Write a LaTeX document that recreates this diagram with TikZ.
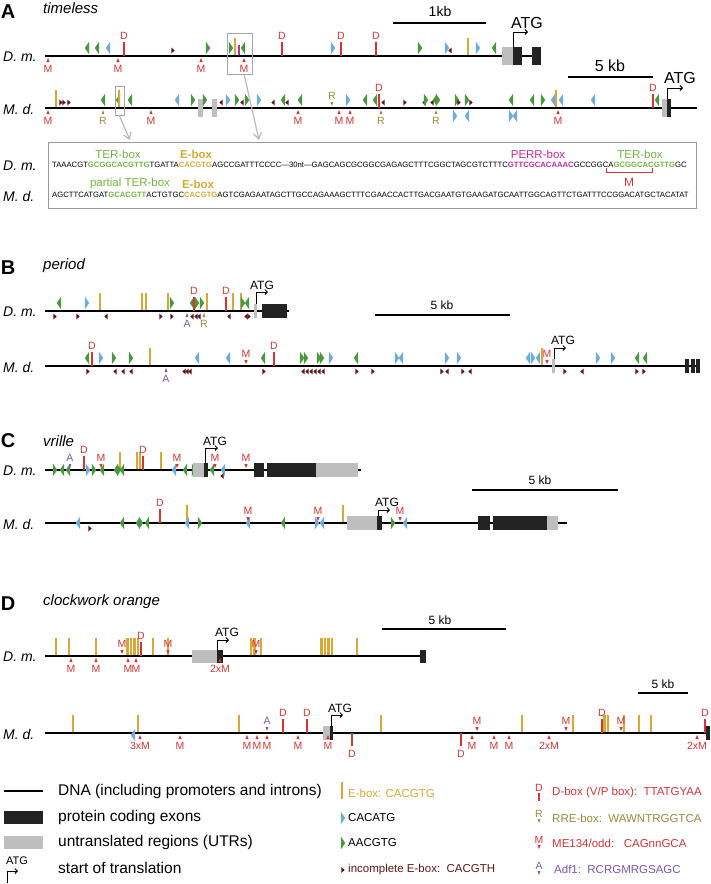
\documentclass[tikz,border=0pt]{standalone}
\usepackage{fontspec}
\setmainfont{Liberation Sans}
\usetikzlibrary{arrows.meta}
\definecolor{egold}{RGB}{218,168,50}
\definecolor{tgreen}{RGB}{72,152,62}
\definecolor{seqg}{RGB}{112,182,62}
\definecolor{tblue}{RGB}{108,172,222}
\definecolor{incred}{RGB}{100,20,25}
\definecolor{mred}{RGB}{214,52,50}
\definecolor{olive}{RGB}{150,140,60}
\definecolor{apurple}{RGB}{125,85,175}
\definecolor{pmag}{RGB}{200,40,160}
\definecolor{utr}{RGB}{190,190,190}
\definecolor{exon}{RGB}{35,35,35}
\tikzset{
    dna/.style={line width=2.6pt,black},
    exonbox/.style={fill=exon},
    utrbox/.style={fill=utr},
    hl/.style={draw=gray!70,line width=0.9pt},
    zoomarr/.style={draw=gray!55,line width=1.2pt,-{Straight Barb[length=6pt,width=8pt]}},
    atgarr/.style={line width=0.9pt,-{Straight Barb[length=2.5pt,width=5pt]}},
    scalebar/.style={line width=1.3pt},
    motif/.style={font=\fontsize{10.5}{10.5}\selectfont,inner sep=0pt},
    panel/.style={font=\fontsize{20}{20}\selectfont\bfseries,inner sep=0pt},
    gene/.style={font=\fontsize{15}{15}\selectfont\itshape,anchor=west,inner sep=0pt},
    trk/.style={font=\fontsize{14}{14}\selectfont\itshape,anchor=west,inner sep=0pt},
    atg/.style={font=\fontsize{12}{12}\selectfont,inner sep=0pt},
    kb/.style={font=\fontsize{12}{12}\selectfont,inner sep=0pt},
    seq/.style={font=\fontsize{7.7}{7.7}\selectfont,anchor=west,inner sep=0pt},
    seqlab/.style={font=\fontsize{11.5}{11.5}\selectfont,inner sep=0pt},
    leg/.style={font=\fontsize{15.5}{15.5}\selectfont,anchor=west,inner sep=0pt},
    legs/.style={font=\fontsize{11.5}{11.5}\selectfont,anchor=west,inner sep=0pt},
}
% site glyphs, x along the track, y relative to the DNA line
\newcommand{\triR}[3]{\fill[#1] (#2-2.2,#3-6.5) -- (#2+2.2,#3) -- (#2-2.2,#3+6.5) -- cycle;}
\newcommand{\triL}[3]{\fill[#1] (#2+2.2,#3-6.5) -- (#2-2.2,#3) -- (#2+2.2,#3+6.5) -- cycle;}
\newcommand{\gR}[2]{\triR{tgreen}{#1}{#2}}
\newcommand{\gL}[2]{\triL{tgreen}{#1}{#2}}
\newcommand{\bR}[2]{\triR{tblue}{#1}{#2}}
\newcommand{\bL}[2]{\triL{tblue}{#1}{#2}}
\newcommand{\iR}[2]{\fill[incred] (#1-1.6,#2-3) -- (#1+1.6,#2) -- (#1-1.6,#2+3) -- cycle;}
\newcommand{\iL}[2]{\fill[incred] (#1+1.6,#2-3) -- (#1-1.6,#2) -- (#1+1.6,#2+3) -- cycle;}
\newcommand{\ebar}[1]{\fill[egold] (#1-1.1,-18) rectangle (#1+1.1,-1);}
\newcommand{\Dup}[1]{\draw[mred,line width=1.2pt] (#1,0) -- (#1,-14); \node[motif,text=mred] at (#1,-20) {D};}
\newcommand{\Ddn}[1]{\draw[mred,line width=1.2pt] (#1,0) -- (#1,13); \node[motif,text=mred] at (#1,21) {D};}
\newcommand{\Mdn}[2][M]{\fill[mred] (#2-1.6,6) -- (#2,2) -- (#2+1.6,6) -- cycle; \node[motif,text=mred] at (#2,12.5) {#1};}
\newcommand{\Mup}[1]{\fill[mred] (#1-1.6,-6) -- (#1,-2) -- (#1+1.6,-6) -- cycle; \node[motif,text=mred] at (#1,-12) {M};}
\newcommand{\Rdn}[1]{\fill[olive] (#1-1.4,6) -- (#1,2) -- (#1+1.4,6) -- cycle; \node[motif,text=olive] at (#1,12.5) {R};}
\newcommand{\Rup}[1]{\fill[olive] (#1-1.4,-6) -- (#1,-2) -- (#1+1.4,-6) -- cycle; \node[motif,text=olive] at (#1,-12) {R};}
\newcommand{\Adn}[1]{\fill[apurple] (#1-1.4,6) -- (#1,2) -- (#1+1.4,6) -- cycle; \node[motif,text=apurple] at (#1,12.5) {A};}
\newcommand{\Aup}[1]{\fill[apurple] (#1-1.4,-6) -- (#1,-2) -- (#1+1.4,-6) -- cycle; \node[motif,text=apurple] at (#1,-12) {A};}

\begin{document}
\begin{tikzpicture}[x=1pt,y=-1pt]
\useasboundingbox (0,0) rectangle (711,884);

% ---------------- A: timeless
\node[panel] (pA) at (8,12) {A};
\node[gene] (gA) at (43,8) {timeless};
\node[trk] (dmA) at (3,57) {D. m.};
\node[trk] (mdA) at (3,109) {M. d.};
\draw[scalebar] (393,23) -- (486,23);
\node[kb,font=\fontsize{14}{14}\selectfont] (kbA1) at (440,11) {1kb};
\draw[scalebar] (568,77) -- (653,77);
\node[kb,font=\fontsize{16}{16}\selectfont] (kbA2) at (610,66) {5 kb};

\begin{scope}[shift={(0,56)}]
\draw[dna] (45,0) -- (541,0);
\gL{87}{-8} \gL{97}{-8} \bL{108}{-8} \Dup{124}
\Mdn{48} \Mdn{118} \Mdn{201} \Mdn{244}
\iR{173}{-5.5} \gR{208}{-8}
\gR{231}{-8} \ebar{235} \fill[pmag] (237.8,-11) rectangle (240.4,-1); \gL{243}{-8}
\draw[hl] (227,-23) rectangle (252,18);
\Dup{282} \bR{333}{-8} \Dup{341} \Dup{376}
\gR{420}{-8} \bR{447}{-8} \iL{450}{-5.5} \ebar{468} \bR{478}{-8} \gL{494}{-8}
\fill[utrbox] (502,-9) rectangle (513,9);
\fill[exonbox] (513,-9) rectangle (522,9);
\fill[exonbox] (532,-9) rectangle (541,9);
\node[atg,font=\fontsize{16}{16}\selectfont] (atgA1) at (527,-33) {ATG};
\draw[atgarr] (513,-9) |- (528,-24);
\end{scope}

\begin{scope}[shift={(0,108)}]
\draw[dna] (45,0) -- (697,0);
\Mdn{48} \ebar{56} \iR{61}{-5.5} \iR{64}{-5.5} \iR{69}{-5.5}
\gL{103}{-8} \Rdn{103}
\gL{118}{-8} \ebar{119} \gL{130}{-8}
\draw[hl] (115,-22) rectangle (124,7);
\Mdn{151}
\bL{177}{-8} \gR{193}{-8} \fill[utrbox] (198,-9) rectangle (203,9);
\gR{205}{-8} \fill[utrbox] (212,-9) rectangle (217,9);
\iL{221}{-5.5} \bR{228}{-8} \gR{237}{-8} \iL{242}{-5.5} \gR{247}{-8} \bR{259}{-8}
\iL{273}{-5.5} \gL{283}{-8} \iL{287}{-5.5} \gL{300}{-8} \Mdn{298}
\Rup{332} \Mdn{339} \Mdn{350} \bR{348}{-8}
\gL{365}{-8} \gL{375}{-8} \Dup{379} \iL{383}{-5.5} \Rdn{381}
\iR{405}{-5.5} \iL{424}{-5.5} \gR{426}{-8} \iL{432}{-5.5} \gL{435}{-8} \gR{438}{-8} \Rdn{436}
\gR{457}{-8} \iR{459}{-5.5} \gR{467}{-8} \iR{471}{-5.5}
\bR{455}{8} \bL{467}{8}
\gL{511}{-8} \bR{511}{8} \bL{515}{8}
\gL{532}{-8} \gR{543}{-8} \bL{553}{-8} \ebar{556} \bL{561}{-8} \Mdn{558}
\bL{593}{-8} \Dup{653} \gL{657}{-8}
\fill[utrbox] (662,-9) rectangle (667,9);
\fill[exonbox] (667,-9) rectangle (671,9);
\node[atg,font=\fontsize{16}{16}\selectfont] (atgA2) at (680,-30) {ATG};
\draw[atgarr] (667,-9) |- (683,-20);
\end{scope}

% zoom-in of the two boxed stretches
\draw[zoomarr] (119,115) -- (130,140);
\draw[zoomarr] (244,74) -- (259,140);
\draw[hl,draw=gray!80] (48,142) rectangle (696,208);
\node[trk] (dmS) at (3,166) {D. m.};
\node[trk] (mdS) at (3,196) {M. d.};
\node[seqlab,text=seqg] (terA) at (118,154) {TER-box};
\node[seqlab,text=egold,font=\fontsize{11.5}{11.5}\selectfont\bfseries] (ebA) at (196,154) {E-box};
\node[seqlab,text=pmag] (perr) at (538,154) {PERR-box};
\node[seqlab,text=seqg] (terB) at (640,154) {TER-box};
\node[seq] (s1) at (52,165) {TAAACGT\textcolor{seqg}{\textbf{GCGGCACGTTG}}TGATTA\textcolor{egold}{\textbf{CACGTG}}AGCCGATTTCCCC---30nt---GAGCAGCGCGGCGAGAGCTTTCGGCTAGCGTCTTTC\textcolor{pmag}{\textbf{GTTCGCACAAAC}}GCCGGCA\textcolor{seqg}{\textbf{GCGGCACGTTG}}GC};
\draw[mred,line width=1pt] (606,168) -- (606,172) -- (652,172) -- (652,168);
\node[motif,text=mred,font=\fontsize{12}{12}\selectfont] (mS) at (629,182) {M};
\node[seqlab,text=seqg] (pter) at (130,184) {partial TER-box};
\node[seqlab,text=egold,font=\fontsize{11.5}{11.5}\selectfont\bfseries] (ebB) at (198,184) {E-box};
\node[seq] (s2) at (52,195) {AGCTTCATGAT\textcolor{seqg}{\textbf{GCACGTT}}ACTGTGC\textcolor{egold}{\textbf{CACGTG}}AGTCGAGAATAGCTTGCCAGAAAGCTTTCGAACCACTTGACGAATGTGAAGATGCAATTGGCAGTTCTGATTTCCGGACATGCTACATAT};

% ---------------- B: period
\node[panel] (pB) at (8,268) {B};
\node[gene] (gB) at (43,266) {period};
\node[trk] (dmB) at (3,312) {D. m.};
\node[trk] (mdB) at (3,367) {M. d.};
\draw[scalebar] (375,315) -- (510,315);
\node[kb] (kbB) at (442,305) {5 kb};

\begin{scope}[shift={(0,311)}]
\draw[dna] (45,0) -- (289,0);
\gL{59}{-8} \bR{87}{-8} \ebar{100} \ebar{142} \ebar{146} \ebar{168} \gR{172}{-8}
\gL{192}{-8} \Dup{194} \gR{197}{-8} \gR{202}{-8} \ebar{207} \Dup{226} \ebar{233} \ebar{241} \gR{243}{-8} \gL{247}{-8}
\iR{55}{5.5} \iR{78}{5.5} \iL{106}{5.5} \iR{161}{5.5} \iR{172}{5.5}
\iL{192}{5.5} \iL{196}{5.5} \iL{199}{5.5} \iL{229}{5.5} \iL{246}{5.5} \iR{249}{5.5}
\Adn{187} \Rdn{204}
\fill[utrbox] (254,-7) rectangle (257,7);
\fill[exonbox] (262,-7) rectangle (287,7);
\node[atg] (atgB1) at (262,-26) {ATG};
\draw[atgarr] (256,-7) |- (268,-19);
\end{scope}

\begin{scope}[shift={(0,366)}]
\draw[dna] (45,0) -- (700,0);
\gL{87}{-8} \Dup{92} \bR{101}{-8} \gR{114}{-8} \gR{131}{-8} \ebar{150} \bL{197}{-8} \bL{228}{-8} \Mup{246}
\gL{263}{-8} \Dup{274} \gR{302}{-8} \gR{306}{-8} \gR{319}{-8} \gR{322}{-8} \bR{331}{-8} \gL{356}{-8}
\bR{397}{-8} \bL{401}{-8} \bR{447}{-8} \bR{459}{-8} \bL{528}{-8} \bR{533}{-8} \bL{538}{-8} \ebar{542} \Mup{547}
\bR{598}{-8} \bR{613}{-8} \gL{637}{-8} \gL{645}{-8}
\iR{88}{5.5} \iL{115}{5.5} \iL{123}{5.5} \iL{131}{5.5} \iL{184}{5.5} \iL{187}{5.5} \iL{190}{5.5} \iR{264}{5.5}
\foreach \x in {303,307,...,323} {\iL{\x}{5.5}}
\iR{357}{5.5} \iR{373}{5.5} \iR{442}{5.5} \iL{447}{5.5} \iR{463}{5.5} \iL{470}{5.5}
\iR{565}{5.5} \iL{582}{5.5} \iR{637}{5.5} \iR{644}{5.5}
\Adn{166}
\fill[utrbox] (552,-7) rectangle (555,7);
\fill[exonbox] (685,-7) rectangle (689,7);
\fill[exonbox] (691,-7) rectangle (695,7);
\fill[exonbox] (696,-7) rectangle (700,7);
\node[atg] (atgB2) at (563,-26) {ATG};
\draw[atgarr] (554,-7) |- (566,-18);
\end{scope}

% ---------------- C: vrille
\node[panel] (pC) at (8,441) {C};
\node[gene] (gC) at (43,441) {vrille};
\node[trk] (dmC) at (3,471) {D. m.};
\node[trk] (mdC) at (3,524) {M. d.};
\draw[scalebar] (472,490) -- (618,490);
\node[kb] (kbC) at (540,480) {5 kb};

\begin{scope}[shift={(0,470)}]
\draw[dna] (45,0) -- (361,0);
\gR{55}{0} \gL{62}{0} \gL{68}{0} \Aup{70} \Dup{84} \bR{88}{0} \gR{94}{0} \Mup{101} \gL{102}{0}
\ebar{120} \gL{116}{0} \gR{119}{0} \gL{122}{0} \ebar{137} \ebar{139.6} \Dup{143} \ebar{161}
\bL{174}{0} \Mup{177} \gL{185}{0} \gR{194}{0}
\fill[utrbox] (193,-7) rectangle (204,7);
\fill[exonbox] (204,-7) rectangle (208,7);
\gL{212}{0} \Mup{215} \bL{223}{0} \iL{222}{6} \Mup{246}
\fill[exonbox] (254,-7) rectangle (264,7);
\fill[exonbox] (267,-7) rectangle (316,7);
\fill[utrbox] (316,-7) rectangle (358,7);
\node[atg] (atgC1) at (215,-29) {ATG};
\draw[atgarr] (205,-7) |- (218,-22);
\end{scope}

\begin{scope}[shift={(0,523)}]
\draw[dna] (45,0) -- (567,0);
\bL{78}{0} \iR{90}{5.5} \gL{122}{0} \gL{138}{0} \gR{141}{0} \gL{147}{0} \Dup{160}
\ebar{187} \bL{187}{0} \gR{200}{0} \bL{248}{0} \Mup{248} \gL{283}{0} \Mup{318} \bR{317}{0} \bL{322}{0} \ebar{343}
\fill[utrbox] (347,-7) rectangle (377,7);
\fill[exonbox] (377,-7) rectangle (382,7);
\gR{393}{0} \bL{405}{0} \Mup{400}
\fill[exonbox] (478,-7) rectangle (490,7);
\fill[exonbox] (493,-7) rectangle (547,7);
\fill[utrbox] (547,-7) rectangle (558,7);
\node[atg] (atgC2) at (387,-21) {ATG};
\draw[atgarr] (378,-7) |- (390,-13);
\end{scope}

% ---------------- D: clockwork orange
\node[panel] (pD) at (8,604) {D};
\node[gene] (gD) at (43,602) {clockwork orange};
\node[trk] (dmD) at (3,657) {D. m.};
\node[trk] (mdD) at (3,734) {M. d.};
\draw[scalebar] (382,629) -- (506,629);
\node[kb] (kbD1) at (440,620) {5 kb};
\draw[scalebar] (638,693) -- (688,693);
\node[kb] (kbD2) at (663,684) {5 kb};

\begin{scope}[shift={(0,656)}]
\draw[dna] (45,0) -- (423,0);
\foreach \x in {56,69,96,127.5,131,134.5,138,153,168,251,254.5,261,321.5,325,328.5,332,357} {\ebar{\x}}
\Dup{141} \Mup{122} \Mup{168} \Mup{256}
\Mdn{71} \Mdn{96} \Mdn{128} \Mdn{136}
\fill[utrbox] (192,-6) rectangle (217,7);
\fill[exonbox] (217,-6) rectangle (223,7);
\Mdn[2xM]{220}
\fill[exonbox] (420,-6) rectangle (426,7);
\node[atg] (atgD1) at (227,-24) {ATG};
\draw[atgarr] (217,-6) |- (229,-16);
\end{scope}

\begin{scope}[shift={(0,733)}]
\draw[dna] (45,0) -- (708,0);
\foreach \x in {73,138,239,381,522,573,604.5,608,624,639,651} {\ebar{\x}}
\bL{133}{2} \Mdn[3xM]{140} \Mdn{180} \Mdn{247} \Mdn{257} \Mdn{267} \Aup{267}
\Dup{283} \Dup{307} \Mdn{298}
\fill[utrbox] (323,-7) rectangle (330,7);
\fill[exonbox] (330,-7) rectangle (333,7);
\Mdn{328} \Ddn{352} \Ddn{461} \Mup{477} \Mdn{472} \Mdn{494} \Mdn{509} \Mdn[2xM]{549}
\Mup{566} \Dup{602} \Mup{621} \Dup{705} \Mdn[2xM]{697}
\fill[exonbox] (706,-7) rectangle (710,7);
\node[atg] (atgD2) at (340,-25) {ATG};
\draw[atgarr] (331,-7) |- (343,-18);
\end{scope}

% ---------------- legend
\draw[dna] (4,791) -- (43,791);
\node[leg] (lgDNA) at (58,791) {DNA (including promoters and introns)};
\fill[exonbox] (4,811) rectangle (43,824);
\node[leg] (lgExon) at (58,817) {protein coding exons};
\fill[utrbox] (4,836) rectangle (43,849);
\node[leg] (lgUtr) at (58,842) {untranslated regions (UTRs)};
\node[atg,font=\fontsize{11}{11}\selectfont] (lgAtgSym) at (17,861) {ATG};
\draw[atgarr] (7,883) |- (18,871);
\node[leg] (lgAtg) at (58,868) {start of translation};

\begin{scope}[shift={(0,800)}]
\ebar{342}
\end{scope}
\node[legs,text=egold] (lgE) at (348,793) {E-box: CACGTG};
\bR{343}{818}
\node[legs] (lgCat) at (348,818) {CACATG};
\gR{343}{843}
\node[legs] (lgAac) at (348,843) {AACGTG};
\iR{343}{870}
\node[legs,text=incred] (lgInc) at (348,870) {incomplete E-box:\ \ CACGTH};

\node[motif,text=mred] (lgDs) at (539,788) {D};
\draw[mred,line width=1.2pt] (539,793) -- (539,801);
\node[legs,text=mred] (lgD) at (552,793) {D-box (V/P box):\ \ TTATGYAA};
\node[motif,text=olive] (lgRs) at (539,814) {R};
\fill[olive] (537.6,819) -- (539,823) -- (540.4,819) -- cycle;
\node[legs,text=olive] (lgR) at (552,818) {RRE-box:\ \ WAWNTRGGTCA};
\node[motif,text=mred] (lgMs) at (539,840) {M};
\fill[mred] (537.4,845) -- (539,849) -- (540.6,845) -- cycle;
\node[legs,text=mred] (lgM) at (552,843) {ME134/odd:\ \ \ CAGnnGCA};
\node[motif,text=apurple] (lgAs) at (539,866) {A};
\fill[apurple] (537.6,871) -- (539,875) -- (540.4,871) -- cycle;
\node[legs,text=apurple] (lgA) at (554,869) {Adf1:\ \ RCRGMRGSAGC};
\end{tikzpicture}
\end{document}
